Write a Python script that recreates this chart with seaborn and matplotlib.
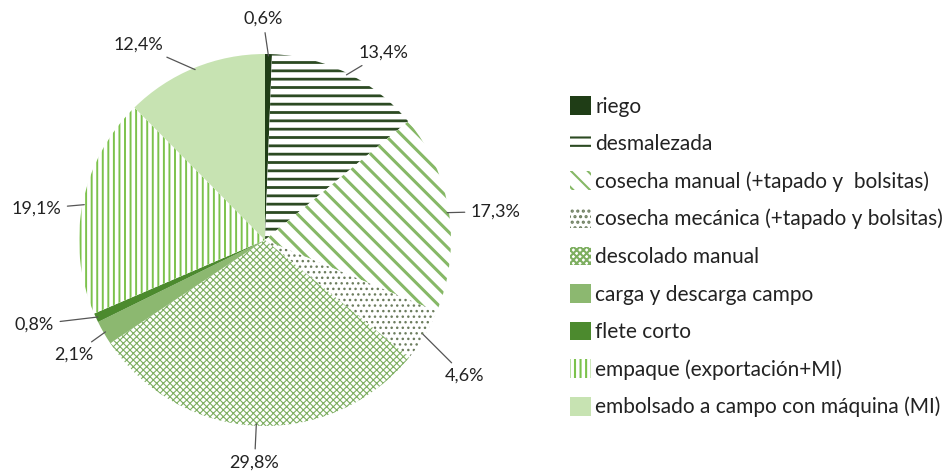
import numpy as np
import matplotlib
matplotlib.use("Agg")
import matplotlib.pyplot as plt
import seaborn as sns

# Data
labels = ["riego", "desmalezada", "cosecha manual (+tapado y  bolsitas)",
          "cosecha mecánica (+tapado y bolsitas)", "descolado manual",
          "carga y descarga campo", "flete corto", "empaque (exportación+MI)",
          "embolsado a campo con máquina (MI)"]
values = [0.6, 13.4, 17.3, 4.6, 29.8, 2.1, 0.8, 19.1, 12.4]
pct_text = ["0,6%", "13,4%", "17,3%", "4,6%", "29,8%", "2,1%", "0,8%", "19,1%", "12,4%"]

# styles: face colour, hatch colour, hatch, hatch width
faces = ["#1f3d16", "white", "white", "white", "white", "#8cb870", "#4c8a2e", "white", "#c7e3b2"]
edges = ["#1f3d16", "#2c4a22", "#86b866", "#6c7d5e", "#7dae60", "#8cb870", "#4c8a2e", "#7cc24c", "#c7e3b2"]
hatches = [None, "--", "\\\\", "...", "xxxxx", None, None, "|||", None]
hatch_lw = [1, 2.0, 2.2, 1.0, 0.8, 1, 1, 1.4, 1]

# label placement (radius, angle offset in degrees)
lab_r = [1.19, 1.19, 1.25, 1.30, 1.20, 1.20, 1.32, 1.24, 1.25]
lab_da = [-1.6, 6.0, 1.5, 3.4, 0.0, -1.0, 4.6, -3.3, -10.6]

sns.set_style("white")
plt.rcParams["font.family"] = ["Lato", "DejaVu Sans"]
plt.rcParams["hatch.linewidth"] = 1.5

W, H = 946, 472
fig = plt.figure(figsize=(W / 100, H / 100), dpi=100)
cx, cy, R = 265, 240, 186
ax = fig.add_axes([(cx - R) / W, (H - cy - R) / H, 2 * R / W, 2 * R / H])

wedges, _ = ax.pie(values, startangle=90, counterclock=False,
                   colors=faces, wedgeprops=dict(linewidth=0))
for w, ec, h, lw in zip(wedges, edges, hatches, hatch_lw):
    w.set_edgecolor(ec)
    w.set_linewidth(0)
    if h:
        w.set_hatch(h)
        if hasattr(w, "set_hatch_linewidth"):
            w.set_hatch_linewidth(lw)

ax.set_xlim(-1, 1)
ax.set_ylim(-1, 1)
ax.set_aspect("equal")
ax.axis("off")

# percentage labels with leader lines
tot = sum(values)
cum = np.cumsum([0] + values[:-1])
for i, v in enumerate(values):
    mid = (cum[i] + v / 2) / tot * 360
    a = np.radians(mid)
    b = np.radians(mid + lab_da[i])
    ax.annotate(pct_text[i], xy=(np.sin(a) * 0.99, np.cos(a) * 0.99),
                xytext=(lab_r[i] * np.sin(b), lab_r[i] * np.cos(b)),
                ha="center", va="center", fontsize=13, color="#222222",
                annotation_clip=False,
                arrowprops=dict(arrowstyle="-", color="#555555", lw=0.9,
                                shrinkA=2, shrinkB=0))

fig.legend(wedges, labels, loc="center left", bbox_to_anchor=(0.594, 0.456),
           frameon=False, fontsize=15, handlelength=1.0, handleheight=1.0,
           handletextpad=0.2, labelspacing=0.82, borderaxespad=0,
           labelcolor="#222222")

fig.savefig("out.png", dpi=100)
